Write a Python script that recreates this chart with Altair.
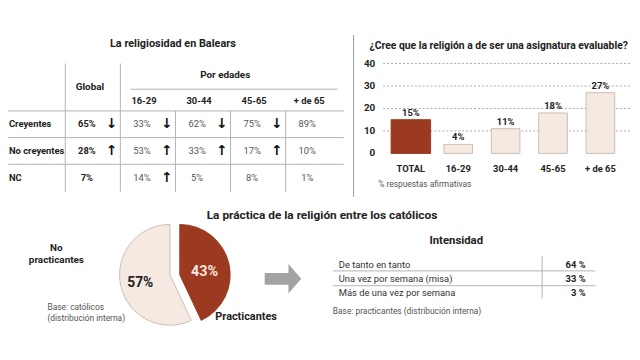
import altair as alt
import pandas as pd

# ---------------- data ----------------
rel_rows = ["Creyentes", "No creyentes", "NC"]
rel_cols = ["Global", "16-29", "30-44", "45-65", "+ de 65"]
rel_global = [65, 28, 7]
rel_16_29 = [33, 53, 14]
rel_30_44 = [62, 33, 5]
rel_45_65 = [75, 17, 8]
rel_65_plus = [89, 10, 1]
arr_global = ["↓", "↑", ""]
arr_16_29 = ["↓", "↑", "↑"]
arr_30_44 = ["↓", "↑", ""]
arr_45_65 = ["↓", "↑", ""]
arr_65_plus = ["", "", ""]

bar_cats = ["TOTAL", "16-29", "30-44", "45-65", "+ de 65"]
bar_vals = [15, 4, 11, 18, 27]
bar_ticks = [0, 10, 20, 30, 40]

pie_cats = ["Practicantes", "No practicantes"]
pie_vals = [43, 57]

int_rows = ["De tanto en tanto", "Una vez por semana (misa)", "Más de una vez por semana"]
int_vals = [64, 33, 3]

# ---------------- style ----------------
FONT = "Roboto"
DARK_RED = "#9b3a21"
BEIGE = "#f5e9e1"
BEIGE_STROKE = "#c9bdb4"
TXT = "#222222"
GRAY_TXT = "#555555"
LINE = "#b3b3b3"
W, H = 632, 352
C_SIZE = 9.5     # table / labels


def X(v):
    return v - 8


def Y(v):
    return v - 8


def label(text, x, y, size=C_SIZE, bold=False, color=TXT, align="center"):
    return alt.Chart(pd.DataFrame({"t": [text]})).mark_text(
        font=FONT, fontSize=size, fontWeight="bold" if bold else "normal",
        color=color, align=align, baseline="middle"
    ).encode(x=alt.value(X(x)), y=alt.value(Y(y)), text="t:N")


def rule(x1, x2, y1, y2, color=LINE, width=1, dash=None):
    kw = dict(color=color, strokeWidth=width)
    if dash:
        kw["strokeDash"] = dash
    return alt.Chart(pd.DataFrame({"a": [0]})).mark_rule(**kw).encode(
        x=alt.value(X(x1)), x2=alt.value(X(x2)), y=alt.value(Y(y1)), y2=alt.value(Y(y2))
    )


layers = []

# ---------------- table: La religiosidad en Balears ----------------
recs = []
for col, vals, arrs in zip(rel_cols, [rel_global, rel_16_29, rel_30_44, rel_45_65, rel_65_plus],
                           [arr_global, arr_16_29, arr_30_44, arr_45_65, arr_65_plus]):
    for r, v, a in zip(rel_rows, vals, arrs):
        recs.append({"row": r, "col": col, "val": f"{v}%", "arrow": a})
rel_df = pd.DataFrame(recs)
cols_df = pd.DataFrame({"col": rel_cols})
rows_df = pd.DataFrame({"row": rel_rows})

rel_x = alt.Scale(domain=rel_cols, range=[X(66), X(345)], paddingInner=0, paddingOuter=0)
rel_y = alt.Scale(domain=rel_rows, range=[Y(110), Y(191)], paddingInner=0, paddingOuter=0)

layers.append(label("La religiosidad en Balears", 175, 42, size=11, bold=True))
for yy in [110, 137, 164]:
    layers.append(rule(8, 348, yy, yy))
layers.append(rule(132, 342, 88, 88))
layers.append(alt.Chart(cols_df).transform_filter(
    alt.FieldOneOfPredicate(field="col", oneOf=["Global", "16-29"])
).mark_rule(color=LINE).encode(
    x=alt.X("col:N", scale=rel_x, bandPosition=0, axis=None),
    y=alt.value(Y(62)), y2=alt.value(Y(192))))
layers.append(alt.Chart(cols_df).transform_filter(
    alt.FieldOneOfPredicate(field="col", oneOf=["30-44", "45-65", "+ de 65"])
).mark_rule(color=LINE).encode(
    x=alt.X("col:N", scale=rel_x, bandPosition=0, axis=None),
    y=alt.value(Y(110)), y2=alt.value(Y(192))))
layers.append(label("Global", 91, 86, size=10, bold=True))
layers.append(label("Por edades", 228, 74, size=10, bold=True))
# text marks sit at band centre (band step ~55.8)
layers.append(alt.Chart(cols_df).transform_filter(alt.datum.col != "Global").mark_text(
    font=FONT, fontSize=C_SIZE, fontWeight="bold", color=TXT, dx=-4, baseline="middle"
).encode(x=alt.X("col:N", scale=rel_x, axis=None),
         y=alt.value(Y(100)), text="col:N"))
layers.append(alt.Chart(rows_df).mark_text(
    font=FONT, fontSize=C_SIZE, fontWeight="bold", color=TXT, align="left", baseline="middle"
).encode(x=alt.value(X(9)), y=alt.Y("row:N", scale=rel_y, axis=None), text="row:N"))
layers.append(alt.Chart(rel_df).transform_filter(alt.datum.col == "Global").mark_text(
    font=FONT, fontSize=C_SIZE, fontWeight="bold", color=TXT, dx=-6, baseline="middle"
).encode(x=alt.X("col:N", scale=rel_x, axis=None),
         y=alt.Y("row:N", scale=rel_y, axis=None), text="val:N"))
layers.append(alt.Chart(rel_df).transform_filter(alt.datum.col != "Global").mark_text(
    font=FONT, fontSize=C_SIZE, color=GRAY_TXT, dx=-6, baseline="middle"
).encode(x=alt.X("col:N", scale=rel_x, axis=None),
         y=alt.Y("row:N", scale=rel_y, axis=None), text="val:N"))
layers.append(alt.Chart(rel_df).mark_text(
    font="DejaVu Sans", fontSize=14, fontWeight="bold", color="#111111", dx=19, baseline="middle"
).encode(x=alt.X("col:N", scale=rel_x, axis=None),
         y=alt.Y("row:N", scale=rel_y, axis=None), text="arrow:N"))

# ---------------- bar chart ----------------
bar_df = pd.DataFrame({"cat": bar_cats, "v": bar_vals})
bar_df["lbl"] = bar_df["v"].astype(str) + "%"
tick_df = pd.DataFrame({"t": bar_ticks})
bar_x = alt.Scale(domain=bar_cats, range=[X(392), X(632)], paddingInner=0, paddingOuter=0)
bar_y = alt.Scale(domain=[0, 40], range=[Y(153), Y(62)])

layers.append(rule(358, 358, 33, 197, color="#999999"))
layers.append(label("¿Cree que la religión a de ser una asignatura evaluable?", 505, 44, size=10.5, bold=True))
layers.append(alt.Chart(tick_df).transform_filter(alt.datum.t > 0).mark_rule(
    color="#aaaaaa", strokeDash=[2, 2], strokeWidth=1
).encode(y=alt.Y("t:Q", scale=bar_y, axis=None), x=alt.value(X(388)), x2=alt.value(X(640))))
layers.append(alt.Chart(tick_df).mark_text(
    font=FONT, fontSize=10, fontWeight="bold", color=TXT, align="right", baseline="middle"
).encode(y=alt.Y("t:Q", scale=bar_y, axis=None), x=alt.value(X(380)), text="t:Q"))
is_total = alt.datum.cat == "TOTAL"
layers.append(alt.Chart(bar_df).mark_bar(strokeWidth=1).encode(
    x=alt.X("cat:N", scale=bar_x, axis=None),
    y=alt.Y("v:Q", scale=bar_y, axis=None),
    size=alt.condition(is_total, alt.value(40), alt.value(29)),
    fill=alt.condition(is_total, alt.value(DARK_RED), alt.value(BEIGE)),
    stroke=alt.condition(is_total, alt.value(DARK_RED), alt.value(BEIGE_STROKE)),
))
layers.append(alt.Chart(bar_df).mark_text(
    font=FONT, fontSize=C_SIZE, fontWeight="bold", color=TXT, baseline="middle", dy=-7
).encode(x=alt.X("cat:N", scale=bar_x, axis=None),
         y=alt.Y("v:Q", scale=bar_y, axis=None), text="lbl:N"))
layers.append(alt.Chart(bar_df).mark_text(
    font=FONT, fontSize=C_SIZE, fontWeight="bold", color=TXT, baseline="middle"
).encode(x=alt.X("cat:N", scale=bar_x, axis=None), y=alt.value(Y(169)), text="cat:N"))
layers.append(label("% respuestas afirmativas", 383, 184, size=8.5, color=GRAY_TXT, align="left"))

# ---------------- pie ----------------
pie_df = pd.DataFrame({"cat": pie_cats, "v": pie_vals, "o": list(range(len(pie_cats)))})
layers.append(label("La práctica de la religión entre los católicos", 326, 215, size=12, bold=True))
for cat, cx, fill, stroke in [("No practicantes", 172, BEIGE, BEIGE_STROKE),
                              ("Practicantes", 182, DARK_RED, DARK_RED)]:
    sel = alt.datum.cat == cat
    layers.append(alt.Chart(pie_df).mark_arc(outerRadius=51, strokeWidth=1).encode(
        theta=alt.Theta("v:Q", stack=True),
        order=alt.Order("o:Q"),
        x=alt.value(X(cx)), y=alt.value(Y(276)),
        fill=alt.value(fill), stroke=alt.value(stroke),
        fillOpacity=alt.condition(sel, alt.value(1), alt.value(0)),
        strokeOpacity=alt.condition(sel, alt.value(1), alt.value(0)),
    ))
layers.append(label("57%", 142, 284, size=14, bold=True))
layers.append(label("43%", 207, 273, size=14.5, bold=True, color="#f6e6dc"))
layers.append(label("No", 57, 249, size=10, bold=True))
layers.append(label("practicantes", 57, 261, size=10, bold=True))
layers.append(label("Base: católicos", 48, 309, size=8.5, color=GRAY_TXT, align="left"))
layers.append(label("(distribución interna)", 48, 320, size=8.5, color=GRAY_TXT, align="left"))
layers.append(label("Practicantes", 218, 319, size=11, bold=True, align="left"))

# arrow
arrow_shape = "M-1,-0.32 L0.3,-0.32 L0.3,-0.81 L1,0 L0.3,0.81 L0.3,0.32 L-1,0.32 Z"
layers.append(alt.Chart(pd.DataFrame({"a": [0]})).mark_point(
    shape=arrow_shape, filled=True, color="#a3a3a3", opacity=1, size=37 * 37
).encode(x=alt.value(X(286.5)), y=alt.value(Y(280))))

# ---------------- intensidad table ----------------
int_df = pd.DataFrame({"row": int_rows, "v": int_vals})
int_df["lbl"] = int_df["v"].astype(str) + " %"
int_y = alt.Scale(domain=int_rows, range=[Y(259), Y(301)], paddingInner=0, paddingOuter=0)
layers.append(label("Intensidad", 462, 242, size=11.5, bold=True))
layers.append(rule(337, 603, 272, 272))
layers.append(rule(337, 603, 287, 287))
layers.append(rule(549, 549, 257, 300))
layers.append(alt.Chart(int_df).mark_text(
    font=FONT, fontSize=C_SIZE, color="#333333", align="left", baseline="middle"
).encode(x=alt.value(X(343)), y=alt.Y("row:N", scale=int_y, axis=None), text="row:N"))
layers.append(alt.Chart(int_df).mark_text(
    font=FONT, fontSize=C_SIZE, fontWeight="bold", color=TXT, align="right", baseline="middle"
).encode(x=alt.value(X(593)), y=alt.Y("row:N", scale=int_y, axis=None), text="lbl:N"))
layers.append(label("Base: practicantes (distribución interna)", 337, 313, size=8.5, color=GRAY_TXT, align="left"))

chart = alt.layer(*layers).resolve_scale(
    x="independent", y="independent", theta="independent"
).properties(
    width=W, height=H, padding=0, autosize="none", background="white"
).configure_view(stroke=None)

chart.save("out.html", embed_options={"renderer": "svg", "actions": False})
